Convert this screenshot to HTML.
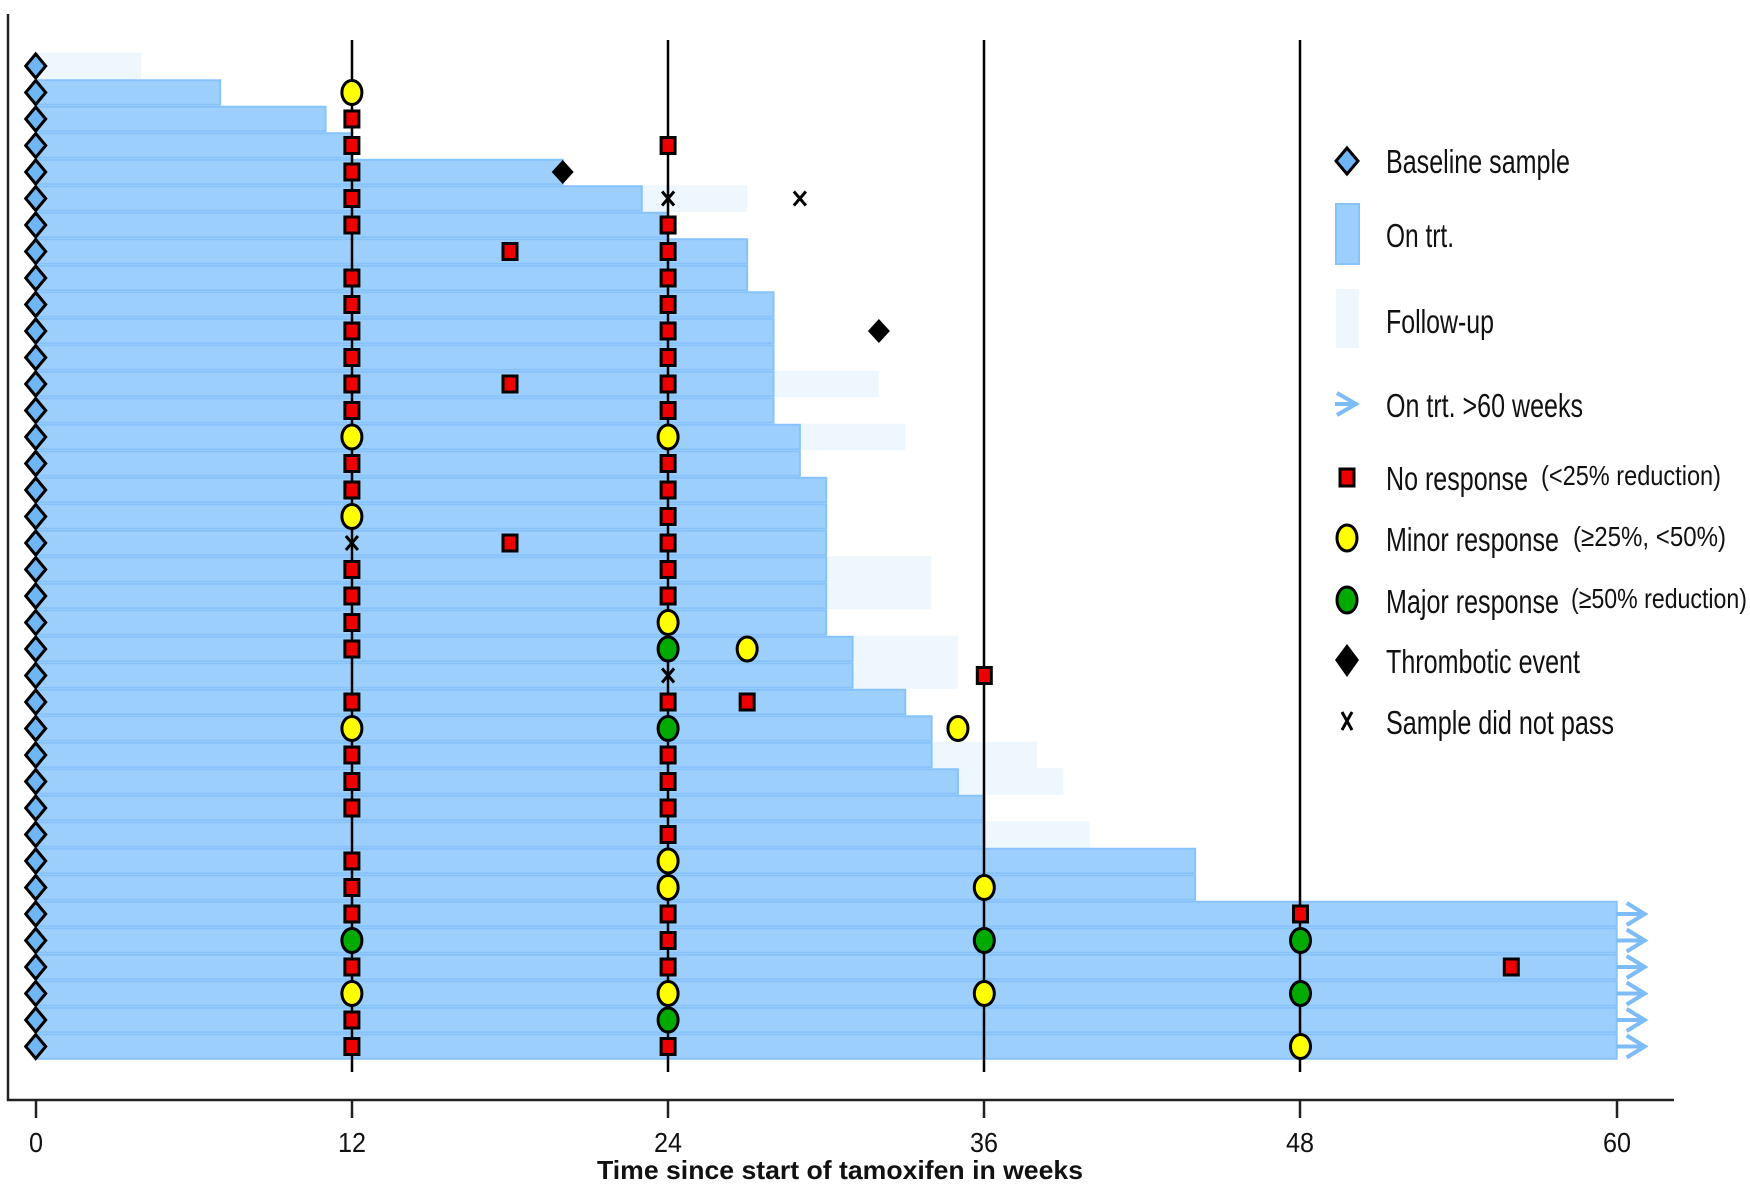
<!DOCTYPE html>
<html><head><meta charset="utf-8"><style>
html,body{margin:0;padding:0;background:#fff;}
svg{display:block;}
.t{font-family:"Liberation Sans",sans-serif;fill:#111;}
</style></head><body>
<svg id="s" width="1750" height="1184" xmlns="http://www.w3.org/2000/svg">
<g id="bars"></g>
<g stroke="#000" stroke-width="2.5">
<line x1="352" y1="40" x2="352" y2="1072"/>
<line x1="668" y1="40" x2="668" y2="1072"/>
<line x1="984" y1="40" x2="984" y2="1072"/>
<line x1="1300" y1="40" x2="1300" y2="1072"/>
</g>
<g id="mk"></g>
<g stroke="#222" stroke-width="2.5">
<line x1="8" y1="14" x2="8" y2="1101"/>
<line x1="7" y1="1100" x2="1674" y2="1100"/>
<line x1="36" y1="1100" x2="36" y2="1118"/>
<line x1="352" y1="1100" x2="352" y2="1118"/>
<line x1="668" y1="1100" x2="668" y2="1118"/>
<line x1="984" y1="1100" x2="984" y2="1118"/>
<line x1="1300" y1="1100" x2="1300" y2="1118"/>
<line x1="1617" y1="1100" x2="1617" y2="1118"/>
</g>
<g class="t" font-size="28">
<text x="29" y="1152" textLength="14" lengthAdjust="spacingAndGlyphs">0</text>
<text x="338" y="1152" textLength="28" lengthAdjust="spacingAndGlyphs">12</text>
<text x="654" y="1152" textLength="28" lengthAdjust="spacingAndGlyphs">24</text>
<text x="970" y="1152" textLength="28" lengthAdjust="spacingAndGlyphs">36</text>
<text x="1286" y="1152" textLength="28" lengthAdjust="spacingAndGlyphs">48</text>
<text x="1603" y="1152" textLength="28" lengthAdjust="spacingAndGlyphs">60</text>
</g>
<text x="597" y="1179" textLength="486" lengthAdjust="spacingAndGlyphs" font-family="Liberation Sans, sans-serif" font-weight="bold" font-size="26" fill="#111">Time since start of tamoxifen in weeks</text>
<polygon points="1347,148 1358,161 1347,174 1336,161" fill="#6fb6f5" stroke="#000" stroke-width="3"/>
<rect x="1336" y="204" width="23" height="60" fill="#9dcffc" stroke="#86c2fb" stroke-width="2"/>
<rect x="1336" y="289" width="23" height="59" fill="#eef7fe"/>
<polyline points="1337,393 1356,404 1337,415" fill="none" stroke="#7dbcf7" stroke-width="4"/>
<line x1="1335" y1="404" x2="1356" y2="404" stroke="#7dbcf7" stroke-width="4"/>
<rect x="1340" y="469" width="14" height="17" fill="#e00" stroke="#000" stroke-width="3"/>
<ellipse cx="1347" cy="538" rx="10" ry="13" fill="#ffff00" stroke="#000" stroke-width="3"/>
<ellipse cx="1347" cy="600" rx="10" ry="13" fill="#0a0" stroke="#000" stroke-width="3"/>
<polygon points="1347,644 1359,660 1347,677 1335,660" fill="#000"/>
<line x1="1342" y1="712" x2="1352" y2="730" stroke="#000" stroke-width="3"/>
<line x1="1352" y1="712" x2="1342" y2="730" stroke="#000" stroke-width="3"/>
<g class="t" font-size="33">
<text x="1386" y="173" textLength="184" lengthAdjust="spacingAndGlyphs">Baseline sample</text>
<text x="1386" y="247" textLength="68" lengthAdjust="spacingAndGlyphs">On trt.</text>
<text x="1386" y="333" textLength="108" lengthAdjust="spacingAndGlyphs">Follow-up</text>
<text x="1386" y="417" textLength="197" lengthAdjust="spacingAndGlyphs">On trt. &gt;60 weeks</text>
<text x="1386" y="490" textLength="142" lengthAdjust="spacingAndGlyphs">No response</text>
<text x="1541" y="485" font-size="28" textLength="180" lengthAdjust="spacingAndGlyphs">(&lt;25% reduction)</text>
<text x="1386" y="551" textLength="173" lengthAdjust="spacingAndGlyphs">Minor response</text>
<text x="1573" y="546" font-size="28" textLength="153" lengthAdjust="spacingAndGlyphs">(≥25%, &lt;50%)</text>
<text x="1386" y="613" textLength="173" lengthAdjust="spacingAndGlyphs">Major response</text>
<text x="1571" y="608" font-size="28" textLength="176" lengthAdjust="spacingAndGlyphs">(≥50% reduction)</text>
<text x="1386" y="673" textLength="194" lengthAdjust="spacingAndGlyphs">Thrombotic event</text>
<text x="1386" y="734" textLength="228" lengthAdjust="spacingAndGlyphs">Sample did not pass</text>
</g>
</svg>
<script>
var X=function(w){return 35.7+26.35*w;};
var Y=function(i){return 66+26.5*i;};
var D=[
[0,4,[]],
[7,0,[[12,'y']]],
[11,0,[[12,'r']]],
[12,0,[[12,'r'],[24,'r']]],
[20,0,[[12,'r'],[20,'d']]],
[23,27,[[12,'r'],[24,'x'],[29,'x']]],
[24,0,[[12,'r'],[24,'r']]],
[27,0,[[18,'r'],[24,'r']]],
[27,0,[[12,'r'],[24,'r']]],
[28,0,[[12,'r'],[24,'r']]],
[28,0,[[12,'r'],[24,'r'],[32,'d']]],
[28,0,[[12,'r'],[24,'r']]],
[28,32,[[12,'r'],[18,'r'],[24,'r']]],
[28,0,[[12,'r'],[24,'r']]],
[29,33,[[12,'y'],[24,'y']]],
[29,0,[[12,'r'],[24,'r']]],
[30,0,[[12,'r'],[24,'r']]],
[30,0,[[12,'y'],[24,'r']]],
[30,0,[[12,'x'],[18,'r'],[24,'r']]],
[30,34,[[12,'r'],[24,'r']]],
[30,34,[[12,'r'],[24,'r']]],
[30,0,[[12,'r'],[24,'y']]],
[31,35,[[12,'r'],[24,'g'],[27,'y']]],
[31,35,[[24,'x'],[36,'r']]],
[33,0,[[12,'r'],[24,'r'],[27,'r']]],
[34,0,[[12,'y'],[24,'g'],[35,'y']]],
[34,38,[[12,'r'],[24,'r']]],
[35,39,[[12,'r'],[24,'r']]],
[36,0,[[12,'r'],[24,'r']]],
[36,40,[[24,'r']]],
[44,0,[[12,'r'],[24,'y']]],
[44,0,[[12,'r'],[24,'y'],[36,'y']]],
[60,0,[[12,'r'],[24,'r'],[48,'r']]],
[60,0,[[12,'g'],[24,'r'],[36,'g'],[48,'g']]],
[60,0,[[12,'r'],[24,'r'],[56,'r']]],
[60,0,[[12,'y'],[24,'y'],[36,'y'],[48,'g']]],
[60,0,[[12,'r'],[24,'g']]],
[60,0,[[12,'r'],[24,'r'],[48,'y']]]
];
var NS='http://www.w3.org/2000/svg';
function el(p,t,a){var e=document.createElementNS(NS,t);for(var k in a)e.setAttribute(k,a[k]);p.appendChild(e);return e;}
var B=document.getElementById('bars'),M=document.getElementById('mk');
D.forEach(function(d,i){
 var y=Y(i),x0=X(0)+2;
 if(d[1]>0){el(B,'rect',{x:X(d[0]||0),y:y-13.25,width:X(d[1])-X(d[0]||0),height:26.5,fill:'#eef7fe'});}
 if(d[0]>0){el(B,'rect',{x:x0,y:y-12.25,width:X(d[0])-x0,height:24.5,fill:'#9dcffc',stroke:'#86c2fb','stroke-width':2});}
 if(d[0]==60){var ax=X(60);el(B,'line',{x1:ax,y1:y,x2:ax+28,y2:y,stroke:'#7dbcf7','stroke-width':4});
  el(B,'polyline',{points:(ax+10)+','+(y-11)+' '+(ax+28)+','+y+' '+(ax+10)+','+(y+11),fill:'none',stroke:'#7dbcf7','stroke-width':4});}
 el(M,'polygon',{points:(X(0))+','+(y-12)+' '+(X(0)+10)+','+y+' '+X(0)+','+(y+12)+' '+(X(0)-10)+','+y,fill:'#6fb6f5',stroke:'#000','stroke-width':3});
 d[2].forEach(function(m){var x=X(m[0]);
  if(m[1]=='r')el(M,'rect',{x:x-7,y:y-8,width:14,height:16,fill:'#e00',stroke:'#000','stroke-width':3});
  else if(m[1]=='y'||m[1]=='g')el(M,'ellipse',{cx:x,cy:y,rx:10,ry:12,fill:m[1]=='y'?'#ffff00':'#0a0',stroke:'#000','stroke-width':3});
  else if(m[1]=='d')el(M,'polygon',{points:x+','+(y-12)+' '+(x+11)+','+y+' '+x+','+(y+12)+' '+(x-11)+','+y,fill:'#000'});
  else if(m[1]=='x'){el(M,'line',{x1:x-6,y1:y-7,x2:x+6,y2:y+7,stroke:'#000','stroke-width':3});el(M,'line',{x1:x+6,y1:y-7,x2:x-6,y2:y+7,stroke:'#000','stroke-width':3});}
 });
});
</script>
</body></html>
